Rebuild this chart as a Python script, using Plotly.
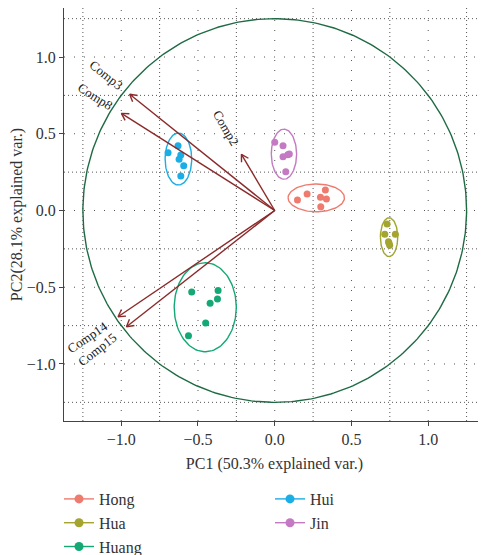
import numpy as np
import plotly.graph_objects as go

# ---------------- data ----------------
groups = ["Hong", "Hua", "Huang", "Hui", "Jin"]
colors = {"Hong": "#EE7B6E", "Hua": "#A3A52E", "Huang": "#14A874",
          "Hui": "#1AADE6", "Jin": "#C47AC2"}

hong_x = [0.148, 0.211, 0.298, 0.337, 0.330, 0.300]
hong_y = [0.068, 0.107, 0.086, 0.075, 0.134, 0.025]
hua_x = [0.732, 0.717, 0.786, 0.745, 0.749, 0.741]
hua_y = [-0.088, -0.155, -0.155, -0.214, -0.227, -0.203]
huang_x = [-0.541, -0.369, -0.373, -0.421, -0.450, -0.562]
huang_y = [-0.531, -0.522, -0.577, -0.605, -0.733, -0.816]
hui_x = [-0.630, -0.695, -0.612, -0.623, -0.593, -0.612]
hui_y = [0.422, 0.377, 0.362, 0.334, 0.292, 0.225]
jin_x = [0.000, 0.054, 0.054, 0.085, 0.095, 0.072]
jin_y = [0.444, 0.422, 0.351, 0.364, 0.368, 0.253]

points = {"Hong": (hong_x, hong_y), "Hua": (hua_x, hua_y),
          "Huang": (huang_x, huang_y), "Hui": (hui_x, hui_y),
          "Jin": (jin_x, jin_y)}

var_names = ["Comp3", "Comp8", "Comp2", "Comp14", "Comp15"]
var_x = [-0.945, -0.999, -0.217, -1.021, -0.966]
var_y = [0.757, 0.633, 0.366, -0.692, -0.757]

circle_radius = 1.25
ellipse_prob = 0.95

x_ticks = [-1.0, -0.5, 0.0, 0.5, 1.0]
y_ticks = [-1.0, -0.5, 0.0, 0.5, 1.0]
x_ticklabels = ["\u22121.0", "\u22120.5", "0.0", "0.5", "1.0"]
y_ticklabels = ["\u22121.0", "\u22120.5", "0.0", "0.5", "1.0"]

FONT = "Liberation Serif"
ARROW_COL = "#8B2A2A"
CIRCLE_COL = "#1E6B43"

# ------------- geometry ---------------
# the page adds an 8px body margin, so the figure is 8px smaller
W, H = 478, 547
ml, mr, mt, mb = 56, 1, 0, 134
xr = [-1.373, 1.370]
px_per_unit = (W - ml - mr) / (xr[1] - xr[0])
plot_h = H - mt - mb
y_top = 202.5 / px_per_unit
yr = [y_top - plot_h / px_per_unit, y_top]

fig = go.Figure()

# grid lines (minor: dense dots, major: sparse dots)
minor_vals = [-1.25, -0.75, -0.25, 0.25, 0.75, 1.25]
for v in minor_vals:
    fig.add_shape(type="line", x0=v, x1=v, y0=yr[0], y1=yr[1], xref="x", yref="y",
                  line=dict(color="#555", width=1, dash="1px,3px"), layer="below")
    fig.add_shape(type="line", y0=v, y1=v, x0=xr[0], x1=xr[1], xref="x", yref="y",
                  line=dict(color="#555", width=1, dash="1px,3px"), layer="below")
for v in x_ticks:
    fig.add_shape(type="line", x0=v, x1=v, y0=yr[0], y1=yr[1], xref="x", yref="y",
                  line=dict(color="#555", width=1, dash="1px,9px"), layer="below")
for v in y_ticks:
    fig.add_shape(type="line", y0=v, y1=v, x0=xr[0], x1=xr[1], xref="x", yref="y",
                  line=dict(color="#555", width=1, dash="1px,9px"), layer="below")

# correlation circle
th = np.linspace(0, 2 * np.pi, 361)
fig.add_trace(go.Scatter(x=circle_radius * np.cos(th), y=circle_radius * np.sin(th),
                         mode="lines", line=dict(color=CIRCLE_COL, width=1.4),
                         showlegend=False, hoverinfo="skip"))

# ellipses (axis-aligned, from per-axis variance) + points
ed = np.sqrt(-2 * np.log(1 - ellipse_prob))
theta = np.linspace(-np.pi, np.pi, 120)
for g in groups:
    gx, gy = np.array(points[g][0]), np.array(points[g][1])
    sx, sy = gx.std(ddof=1), gy.std(ddof=1)
    ex = gx.mean() + ed * sx * np.cos(theta)
    ey = gy.mean() + ed * sy * np.sin(theta)
    fig.add_trace(go.Scatter(x=ex, y=ey, mode="lines",
                             line=dict(color=colors[g], width=1.4),
                             showlegend=False, hoverinfo="skip"))
    fig.add_trace(go.Scatter(x=gx, y=gy, mode="markers",
                             marker=dict(color=colors[g], size=7),
                             showlegend=False, name=g))

# variable arrows
head_len = 8 / px_per_unit
for name, vx, vy in zip(var_names, var_x, var_y):
    fig.add_trace(go.Scatter(x=[0, vx], y=[0, vy], mode="lines",
                             line=dict(color=ARROW_COL, width=1.4),
                             showlegend=False, hoverinfo="skip"))
    ang = np.arctan2(vy, vx)
    hx, hy = [], []
    for d in (np.pi - np.pi / 6, np.pi + np.pi / 6):
        hx += [vx + head_len * np.cos(ang + d), vx, None]
        hy += [vy + head_len * np.sin(ang + d), vy, None]
    fig.add_trace(go.Scatter(x=hx, y=hy, mode="lines",
                             line=dict(color=ARROW_COL, width=1.4),
                             showlegend=False, hoverinfo="skip"))
    L = np.hypot(vx, vy)
    off = 6.2 * len(name) / px_per_unit
    lx, ly = vx + vx / L * off, vy + vy / L * off
    fig.add_annotation(x=lx, y=ly, text=name, showarrow=False,
                       textangle=-np.degrees(np.arctan(vy / vx)),
                       font=dict(family=FONT, size=13, color="#222"))

# legend entries (row-wise order to mimic two column-major columns)
for g in ["Hong", "Hui", "Hua", "Jin", "Huang"]:
    fig.add_trace(go.Scatter(x=[None], y=[None], mode="lines+markers", name=g,
                             line=dict(color=colors[g], width=1.4),
                             marker=dict(color=colors[g], size=9)))

axis_common = dict(showgrid=False, zeroline=False, showline=True, mirror=True,
                   linecolor="#444", linewidth=1.2, ticks="outside", ticklen=4,
                   tickcolor="#444", automargin=False,
                   tickfont=dict(family=FONT, size=16, color="#333"))

fig.update_xaxes(range=xr, tickvals=x_ticks, ticktext=x_ticklabels,
                 title=dict(text="PC1 (50.3% explained var.)",
                            font=dict(family=FONT, size=16, color="#333"), standoff=10),
                 **axis_common)
fig.update_yaxes(range=yr, tickvals=y_ticks, ticktext=y_ticklabels,
                 title=dict(text="PC2(28.1% explained var.)",
                            font=dict(family=FONT, size=16, color="#333"), standoff=14),
                 **axis_common)

fig.update_layout(
    width=W, height=H,
    margin=dict(l=ml, r=mr, t=mt, b=mb, autoexpand=False),
    plot_bgcolor="white", paper_bgcolor="white",
    legend=dict(orientation="h", xref="container", yref="container",
                x=51 / W, xanchor="left", y=1 - 474 / H, yanchor="top",
                entrywidth=166, entrywidthmode="pixels",
                font=dict(family=FONT, size=16, color="#333"),
                itemwidth=30, tracegroupgap=0),
    showlegend=True,
)

fig.write_html("out.html")
